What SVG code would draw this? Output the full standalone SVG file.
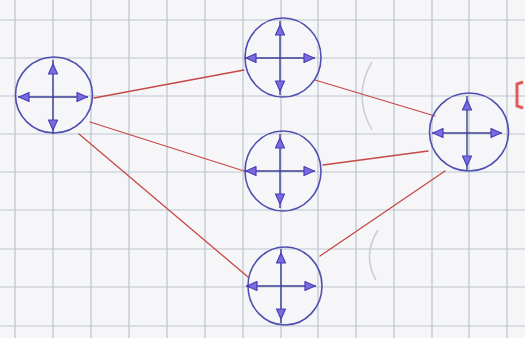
<svg xmlns="http://www.w3.org/2000/svg" width="525" height="338" viewBox="0 0 525 338">
<style>
.grid line{stroke:#b9c5cd;stroke-width:1.2}
.ring{fill:none;stroke:#4f4fb0;stroke-width:1.6}
.axis{stroke:#3b3f95;stroke-width:1.4}
.tip{fill:#7a6be0;stroke:#4a3fb8;stroke-width:1.2;stroke-linejoin:round}
.edges line{stroke:#c64848;stroke-width:1.3;stroke-linecap:round}
.faint{fill:none;stroke:#c8ccd8;stroke-width:1.5}
</style>
<defs>
<g id="cross">
<line class="axis" x1="-35" y1="0" x2="35" y2="0"/>
<line class="axis" x1="0" y1="-37" x2="0" y2="37"/>
<polygon class="tip" points="0,-33 -4.5,-23 4.5,-23"/>
<polygon class="tip" points="0,33 -4.5,23 4.5,23"/>
<polygon class="tip" points="-34,0 -24,-4.5 -24,4.5"/>
<polygon class="tip" points="34,0 24,-4.5 24,4.5"/>
</g>
</defs>
<rect width="525" height="338" fill="#f6f6f9"/>
<g class="grid">
<line x1="15" y1="0" x2="15" y2="338"/>
<line x1="53" y1="0" x2="53" y2="338"/>
<line x1="91" y1="0" x2="91" y2="338"/>
<line x1="129" y1="0" x2="129" y2="338"/>
<line x1="167" y1="0" x2="167" y2="338"/>
<line x1="205" y1="0" x2="205" y2="338"/>
<line x1="243" y1="0" x2="243" y2="338"/>
<line x1="281" y1="0" x2="281" y2="338"/>
<line x1="318" y1="0" x2="318" y2="338"/>
<line x1="356" y1="0" x2="356" y2="338"/>
<line x1="394" y1="0" x2="394" y2="338"/>
<line x1="432" y1="0" x2="432" y2="338"/>
<line x1="469" y1="0" x2="469" y2="338"/>
<line x1="507" y1="0" x2="507" y2="338"/>
<line x1="0" y1="20" x2="525" y2="20"/>
<line x1="0" y1="58" x2="525" y2="58"/>
<line x1="0" y1="96" x2="525" y2="96"/>
<line x1="0" y1="134" x2="525" y2="134"/>
<line x1="0" y1="172" x2="525" y2="172"/>
<line x1="0" y1="210" x2="525" y2="210"/>
<line x1="0" y1="249" x2="525" y2="249"/>
<line x1="0" y1="287" x2="525" y2="287"/>
<line x1="0" y1="326" x2="525" y2="326"/>
</g>
<path class="faint" d="M372,62 Q352,95 372,130"/>
<path class="faint" d="M378,230 Q362,255 376,280"/>
<path d="M523,82 L517,84 L517,106 L523,108" fill="none" stroke="#e05a5a" stroke-width="3"/>
<g class="edges">
<line x1="94" y1="98" x2="244" y2="70"/>
<line x1="90" y1="122" x2="244" y2="171"/>
<line x1="79" y1="134" x2="248" y2="277"/>
<line x1="315" y1="80" x2="435" y2="116"/>
<line x1="323" y1="165" x2="428" y2="151"/>
<line x1="320" y1="256" x2="445" y2="171"/>
</g>
<g id="node-left">
<ellipse class="ring" cx="54" cy="95" rx="38.5" ry="38"/>
<use href="#cross" transform="translate(53,97)"/>
</g>
<g id="node-top">
<ellipse class="ring" cx="283" cy="57.5" rx="38" ry="39.5"/>
<use href="#cross" transform="translate(280,58)"/>
</g>
<g id="node-middle">
<ellipse class="ring" cx="283" cy="171" rx="38" ry="40"/>
<use href="#cross" transform="translate(280,171)"/>
</g>
<g id="node-bottom">
<ellipse class="ring" cx="285" cy="286" rx="37" ry="39"/>
<use href="#cross" transform="translate(281,286)"/>
</g>
<g id="node-right">
<ellipse class="ring" cx="469" cy="132" rx="39.5" ry="39"/>
<use href="#cross" transform="translate(467,133)"/>
</g>
</svg>
